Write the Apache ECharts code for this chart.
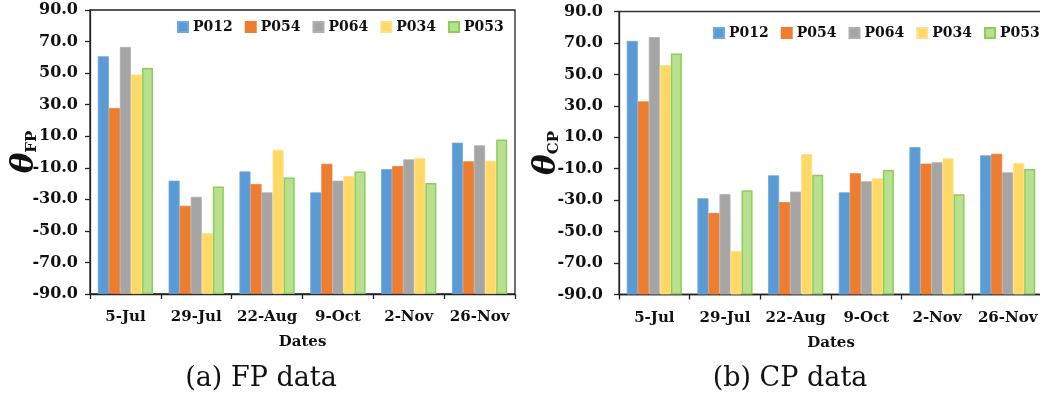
<!DOCTYPE html>
<html><head><meta charset="utf-8">
<script src="https://cdn.jsdelivr.net/npm/echarts@6/dist/echarts.min.js"></script>
<style>html,body{margin:0;padding:0;background:#fff}#c{width:1040px;height:401px}</style>
</head><body><div id="c"></div>
<script>
const categories = ['5-Jul','29-Jul','22-Aug','9-Oct','2-Nov','26-Nov'];
const seriesNames = ['P012','P054','P064','P034','P053'];
const axisMin = -90, axisMax = 90, axisStep = 20;

const fpP012 = [60.7,-18.2,-12.3,-25.6,-10.8,5.9];
const fpP054 = [27.9,-34.1,-20.3,-7.5,-8.9,-5.9];
const fpP064 = [66.6,-28.4,-25.6,-18.2,-4.7,4.2];
const fpP034 = [49.1,-51.5,1.4,-15.3,-3.8,-5.6];
const fpP053 = [53.3,-21.8,-16.1,-12.3,-19.7,8.0];

const cpP012 = [71.3,-28.8,-14.2,-25.0,3.8,-1.5];
const cpP054 = [32.8,-38.1,-31.2,-12.9,-6.8,-0.5];
const cpP064 = [73.7,-26.1,-24.6,-18.0,-5.9,-12.3];
const cpP034 = [55.9,-62.3,-0.7,-16.1,-3.4,-6.6];
const cpP053 = [63.3,-23.7,-13.8,-10.8,-26.3,-10.2];

const fills = ['#5b9bd5','#ed7d31','#a5a5a5','#ffd966','#b9e08f'];
const borders = ['#6fa8dc','#ed7d31','#b0b0b0','#ffe08a','#8cce5a'];

const FONT = 'DejaVu Serif';
const fp = [fpP012, fpP054, fpP064, fpP034, fpP053];
const cp = [cpP012, cpP054, cpP064, cpP034, cpP053];

function yAxis(idx, margin, sub, gap) {
  return {
    type: 'value', gridIndex: idx, min: 0, max: axisMax - axisMin, interval: axisStep,
    axisLine: {show: true, lineStyle: {color: '#222', width: 1.3}},
    axisTick: {show: true, inside: false, length: 5, lineStyle: {color: '#222', width: 1.3}},
    splitLine: {show: false},
    axisLabel: {margin: margin, color: '#111', fontFamily: FONT, fontWeight: 'bold', fontSize: 16,
      formatter: v => (v + axisMin).toFixed(1)},
    name: '{t|θ}{s|' + sub + '}', nameLocation: 'middle', nameRotate: 90, nameGap: gap,
    nameMoveOverlap: false,
    nameTextStyle: {rich: {
      t: {fontFamily: FONT, fontStyle: 'italic', fontWeight: 'bold', fontSize: 31, color: '#111'},
      s: {fontFamily: FONT, fontWeight: 'bold', fontSize: 15, color: '#111', verticalAlign: 'bottom', lineHeight: 22}
    }}
  };
}
function xAxis(idx) {
  return {
    type: 'category', gridIndex: idx, data: categories,
    axisLine: {show: true, lineStyle: {color: '#222', width: 1.3}},
    axisTick: {show: true, length: 5, lineStyle: {color: '#222', width: 1.3}},
    axisLabel: {margin: 16, color: '#111', fontFamily: FONT, fontWeight: 'bold', fontSize: 15, interval: 0},
    name: 'Dates', nameLocation: 'middle', nameGap: 41,
    nameTextStyle: {color: '#111', fontFamily: FONT, fontWeight: 'bold', fontSize: 15}
  };
}
function legend(left, top) {
  return {
    data: seriesNames, left: left, top: top, width: 420, padding: 0, itemWidth: 10, itemHeight: 10, itemGap: 12,
    icon: 'rect', selectedMode: false,
    textStyle: {color: '#111', fontFamily: FONT, fontWeight: 'bold', fontSize: 14}
  };
}
const series = [];
[fp, cp].forEach((set, gi) => {
  set.forEach((vals, si) => {
    series.push({
      type: 'bar', name: seriesNames[si], xAxisIndex: gi, yAxisIndex: gi,
      data: vals.map(v => v - axisMin),
      barGap: '0%', barCategoryGap: '22%',
      itemStyle: {color: fills[si], borderColor: borders[si], borderWidth: si === 4 ? 1.5 : 0.8},
      emphasis: {disabled: true}
    });
  });
});

const chart = echarts.init(document.getElementById('c'), null, {renderer: 'canvas'});
chart.setOption({
  animation: false,
  backgroundColor: '#fff',
  grid: [
    {left: 90, width: 425, top: 10, height: 284, outerBoundsMode: 'none', containLabel: false, show: true, borderColor: '#222', borderWidth: 1.3, backgroundColor: 'transparent'},
    {left: 619, width: 424, top: 11.5, height: 283, outerBoundsMode: 'none', containLabel: false, show: true, borderColor: '#333', borderWidth: 1.3, backgroundColor: 'transparent'}
  ],
  legend: [legend(177, 20), legend(713, 26)],
  xAxis: [xAxis(0), xAxis(1)],
  yAxis: [yAxis(0, 12, 'FP', 50), yAxis(1, 16, 'CP', 57)],
  series: series,
  graphic: [
    {type: 'text', style: {text: '(a) FP data', x: 261, y: 379, textAlign: 'center', textVerticalAlign: 'middle', font: '27px "DejaVu Serif"', fill: '#111'}},
    {type: 'text', style: {text: '(b) CP data', x: 790, y: 379, textAlign: 'center', textVerticalAlign: 'middle', font: '27px "DejaVu Serif"', fill: '#111'}}
  ]
});
</script></body></html>
